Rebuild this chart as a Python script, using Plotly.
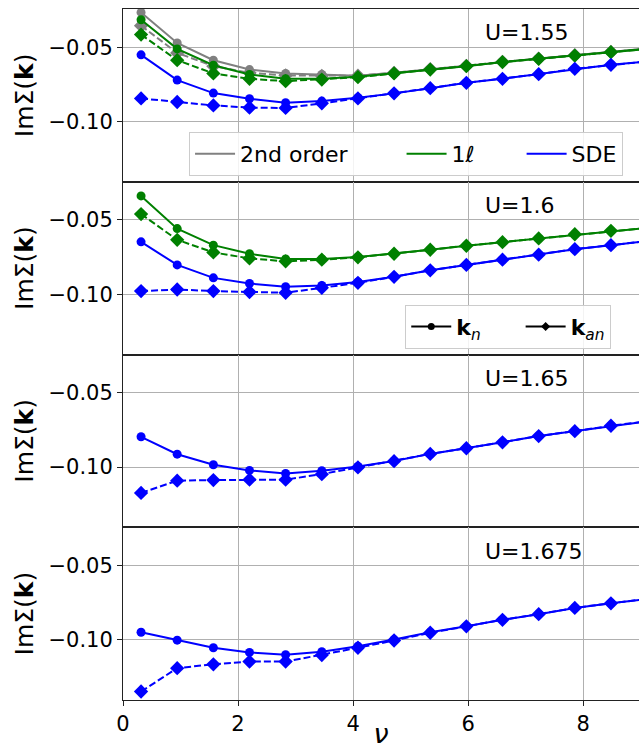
import plotly.graph_objects as go
from plotly.subplots import make_subplots

nu = [0.314, 0.942, 1.571, 2.199, 2.827, 3.456, 4.084, 4.712, 5.341, 5.969, 6.597, 7.226, 7.854, 8.482, 9.111]

# U = 1.55
u155_2nd_kn  = [-0.0266, -0.0471, -0.0587, -0.0650, -0.0676, -0.0683, -0.0691, -0.0672, -0.0647, -0.0625, -0.0598, -0.0576, -0.0554, -0.0531, -0.0509]
u155_2nd_kan = [-0.0355, -0.0538, -0.0627, -0.0672, -0.0690, -0.0692, -0.0691, -0.0672, -0.0647, -0.0625, -0.0598, -0.0576, -0.0554, -0.0531, -0.0509]
u155_1l_kn   = [-0.0315, -0.0511, -0.0621, -0.0683, -0.0712, -0.0712, -0.0699, -0.0676, -0.0650, -0.0627, -0.0600, -0.0578, -0.0556, -0.0533, -0.0511]
u155_1l_kan  = [-0.0415, -0.0587, -0.0676, -0.0712, -0.0728, -0.0717, -0.0701, -0.0676, -0.0650, -0.0627, -0.0600, -0.0578, -0.0556, -0.0533, -0.0511]
u155_sde_kn  = [-0.0551, -0.0721, -0.0808, -0.0846, -0.0873, -0.0862, -0.0839, -0.0810, -0.0775, -0.0739, -0.0712, -0.0681, -0.0645, -0.0618, -0.0595]
u155_sde_kan = [-0.0844, -0.0868, -0.0891, -0.0906, -0.0908, -0.0877, -0.0844, -0.0810, -0.0775, -0.0739, -0.0712, -0.0681, -0.0645, -0.0618, -0.0595]

# U = 1.6
u160_1l_kn   = [-0.0338, -0.0558, -0.0669, -0.0727, -0.0762, -0.0762, -0.0749, -0.0727, -0.0700, -0.0673, -0.0649, -0.0624, -0.0596, -0.0573, -0.0553]
u160_1l_kan  = [-0.0460, -0.0633, -0.0718, -0.0758, -0.0778, -0.0767, -0.0751, -0.0727, -0.0700, -0.0673, -0.0649, -0.0624, -0.0596, -0.0573, -0.0553]
u160_sde_kn  = [-0.0647, -0.0802, -0.0889, -0.0927, -0.0949, -0.0940, -0.0916, -0.0882, -0.0838, -0.0802, -0.0767, -0.0733, -0.0696, -0.0669, -0.0642]
u160_sde_kan = [-0.0978, -0.0967, -0.0978, -0.0984, -0.0989, -0.0956, -0.0922, -0.0882, -0.0838, -0.0802, -0.0767, -0.0733, -0.0696, -0.0669, -0.0642]

# U = 1.65
u165_sde_kn  = [-0.0796, -0.0913, -0.0984, -0.1022, -0.1042, -0.1024, -0.0996, -0.0958, -0.0911, -0.0873, -0.0833, -0.0791, -0.0758, -0.0722, -0.0692]
u165_sde_kan = [-0.1173, -0.1091, -0.1087, -0.1084, -0.1084, -0.1047, -0.1002, -0.0960, -0.0911, -0.0873, -0.0833, -0.0791, -0.0758, -0.0722, -0.0692]

# U = 1.675
u1675_sde_kn  = [-0.0949, -0.1002, -0.1053, -0.1084, -0.1100, -0.1080, -0.1042, -0.0998, -0.0949, -0.0909, -0.0865, -0.0827, -0.0785, -0.0754, -0.0725]
u1675_sde_kan = [-0.1347, -0.1190, -0.1164, -0.1146, -0.1146, -0.1102, -0.1053, -0.1004, -0.0952, -0.0909, -0.0865, -0.0827, -0.0785, -0.0754, -0.0725]

panel_labels = ["U=1.55", "U=1.6", "U=1.65", "U=1.675"]
x_ticks = [0, 2, 4, 6, 8]
y_ticks = [-0.05, -0.10]

GRAY = "#808080"
GREEN = "#008000"
BLUE = "#0000ff"
FONT = "DejaVu Sans"

panels = [
    [(u155_2nd_kn, u155_2nd_kan, GRAY), (u155_1l_kn, u155_1l_kan, GREEN), (u155_sde_kn, u155_sde_kan, BLUE)],
    [(u160_1l_kn, u160_1l_kan, GREEN), (u160_sde_kn, u160_sde_kan, BLUE)],
    [(u165_sde_kn, u165_sde_kan, BLUE)],
    [(u1675_sde_kn, u1675_sde_kan, BLUE)],
]

fig = make_subplots(rows=4, cols=1, shared_xaxes=True, vertical_spacing=0)

for r, series in enumerate(panels, start=1):
    for kn, kan, col in series:
        fig.add_trace(go.Scatter(x=nu, y=kn, mode="lines+markers", showlegend=False,
                                 line=dict(color=col, width=2),
                                 marker=dict(symbol="circle", size=9, color=col)), row=r, col=1)
        fig.add_trace(go.Scatter(x=nu, y=kan, mode="lines+markers", showlegend=False,
                                 line=dict(color=col, width=2, dash="7px,3px"),
                                 marker=dict(symbol="diamond", size=11, color=col)), row=r, col=1)

NB = "\u00a0"
# legend 1 (methods)
for name, col in [("2nd order" + NB * 7, GRAY), ("1ℓ" + NB * 6, GREEN), ("SDE", BLUE)]:
    fig.add_trace(go.Scatter(x=[None], y=[None], mode="lines", name=name,
                             line=dict(color=col, width=2), legend="legend"), row=1, col=1)
# legend 2 (momenta)
for name, sym in [("<b>k</b><sub><i>n</i></sub>" + NB * 5, "circle"), ("<b>k</b><sub><i>an</i></sub>", "diamond")]:
    fig.add_trace(go.Scatter(x=[None], y=[None], mode="lines+markers", name=name,
                             line=dict(color="black", width=2),
                             marker=dict(symbol=sym, size=7, color="black"), legend="legend2"), row=1, col=1)

for r in range(1, 5):
    fig.update_xaxes(row=r, col=1, range=[0, 8.97], tickvals=x_ticks, automargin=False,
                     showgrid=True, gridcolor="#b0b0b0", gridwidth=1,
                     showline=True, linecolor="#222222", linewidth=1, mirror=True,
                     ticks="outside" if r == 4 else "", ticklen=5, tickcolor="#222222",
                     showticklabels=(r == 4), zeroline=False,
                     tickfont=dict(family=FONT, size=21, color="black"))
    fig.update_yaxes(row=r, col=1, range=[-0.1404, -0.0243], tickvals=y_ticks, automargin=False,
                     tickformat=".2f", showgrid=True, gridcolor="#b0b0b0", gridwidth=1,
                     showline=True, linecolor="#222222", linewidth=1, mirror=False,
                     ticks="outside", ticklen=5, tickcolor="#222222", zeroline=False,
                     tickfont=dict(family=FONT, size=21, color="black"),
                     title=dict(text="ImΣ(<b>k</b>)", font=dict(family=FONT, size=25, color="black"), standoff=7))
    yref = "y domain" if r == 1 else f"y{r} domain"
    xref = "x domain" if r == 1 else f"x{r} domain"
    fig.add_annotation(text=panel_labels[r - 1], xref=xref, yref=yref, x=0.697, y=0.862,
                       xanchor="left", yanchor="middle", showarrow=False,
                       font=dict(family=FONT, size=22, color="black"))

fig.update_xaxes(row=4, col=1, title=dict(text="<i>ν</i>", font=dict(family=FONT, size=27, color="black"), standoff=2))

fig.update_layout(
    width=639, height=749,
    margin=dict(l=123, r=0, t=9, b=49),
    plot_bgcolor="white", paper_bgcolor="white",
    font=dict(family=FONT, color="black"),
    legend=dict(orientation="h", x=0.128, y=0.822, xanchor="left", yanchor="top",
                bgcolor="rgba(255,255,255,0.85)", bordercolor="#cccccc", borderwidth=1,
                font=dict(family=FONT, size=22, color="black"), itemwidth=40),
    legend2=dict(orientation="h", x=0.547, y=0.572, xanchor="left", yanchor="top",
                 bgcolor="rgba(255,255,255,0.85)", bordercolor="#cccccc", borderwidth=1,
                 font=dict(family=FONT, size=22, color="black"), itemwidth=40),
)

fig.write_html("out.html")
